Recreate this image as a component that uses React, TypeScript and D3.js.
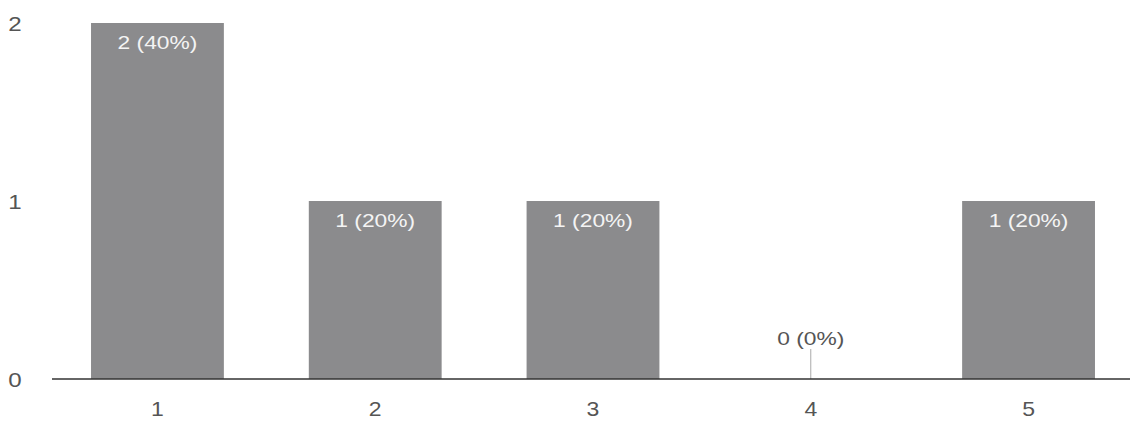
import React from "react";
import * as d3 from "d3";

const categories: string[] = ["1", "2", "3", "4", "5"];
const counts: number[] = [2, 1, 1, 0, 1];
const percents: string[] = ["40%", "20%", "20%", "0%", "20%"];
const yTicks: number[] = [0, 1, 2];

const W = 1130;
const H = 423;

export default function App() {
  const x = d3
    .scaleBand<string>()
    .domain(categories)
    .range([54, 1132])
    .paddingInner(0.39)
    .paddingOuter(0.17);
  const y = d3.scaleLinear().domain([0, 2]).range([379, 23]);
  const font = "Liberation Sans, Arial, sans-serif";

  const T = (props: {
    x: number;
    y: number;
    size: number;
    fill: string;
    sx?: number;
    children: React.ReactNode;
  }) => (
    <text
      transform={`translate(${props.x},${props.y}) scale(${props.sx ?? 1.15},1)`}
      textAnchor="middle"
      fontSize={props.size}
      fill={props.fill}
    >
      {props.children}
    </text>
  );

  return (
    <svg
      width={W}
      height={H}
      style={{ position: "absolute", left: 0, top: 0, background: "#fff" }}
      fontFamily={font}
    >
      {yTicks.map((t) => (
        <T key={"yt" + t} x={15} y={y(t) + 8} size={21} fill="#555">
          {t}
        </T>
      ))}
      {counts.map((v, i) => {
        const cx = (x(categories[i]) as number) + x.bandwidth() / 2;
        if (v === 0) {
          return (
            <g key={"b" + i}>
              <line
                x1={cx}
                x2={cx}
                y1={y(0) - 30}
                y2={y(0)}
                stroke="#aaa"
                strokeWidth={1}
              />
              <T x={cx} y={y(0) - 34} size={19} fill="#555" sx={1.2}>
                {`${v} (${percents[i]})`}
              </T>
            </g>
          );
        }
        return (
          <g key={"b" + i}>
            <rect
              x={x(categories[i])}
              y={y(v)}
              width={x.bandwidth()}
              height={y(0) - y(v)}
              fill="#8b8b8d"
            />
            <T x={cx} y={y(v) + 26} size={19} fill="#f4f4f4" sx={1.2}>
              {`${v} (${percents[i]})`}
            </T>
          </g>
        );
      })}
      <line
        x1={52}
        x2={W}
        y1={y(0)}
        y2={y(0)}
        stroke="#333"
        strokeWidth={1.5}
      />
      {categories.map((c) => (
        <T
          key={"xt" + c}
          x={(x(c) as number) + x.bandwidth() / 2}
          y={416}
          size={20}
          fill="#555"
        >
          {c}
        </T>
      ))}
    </svg>
  );
}
